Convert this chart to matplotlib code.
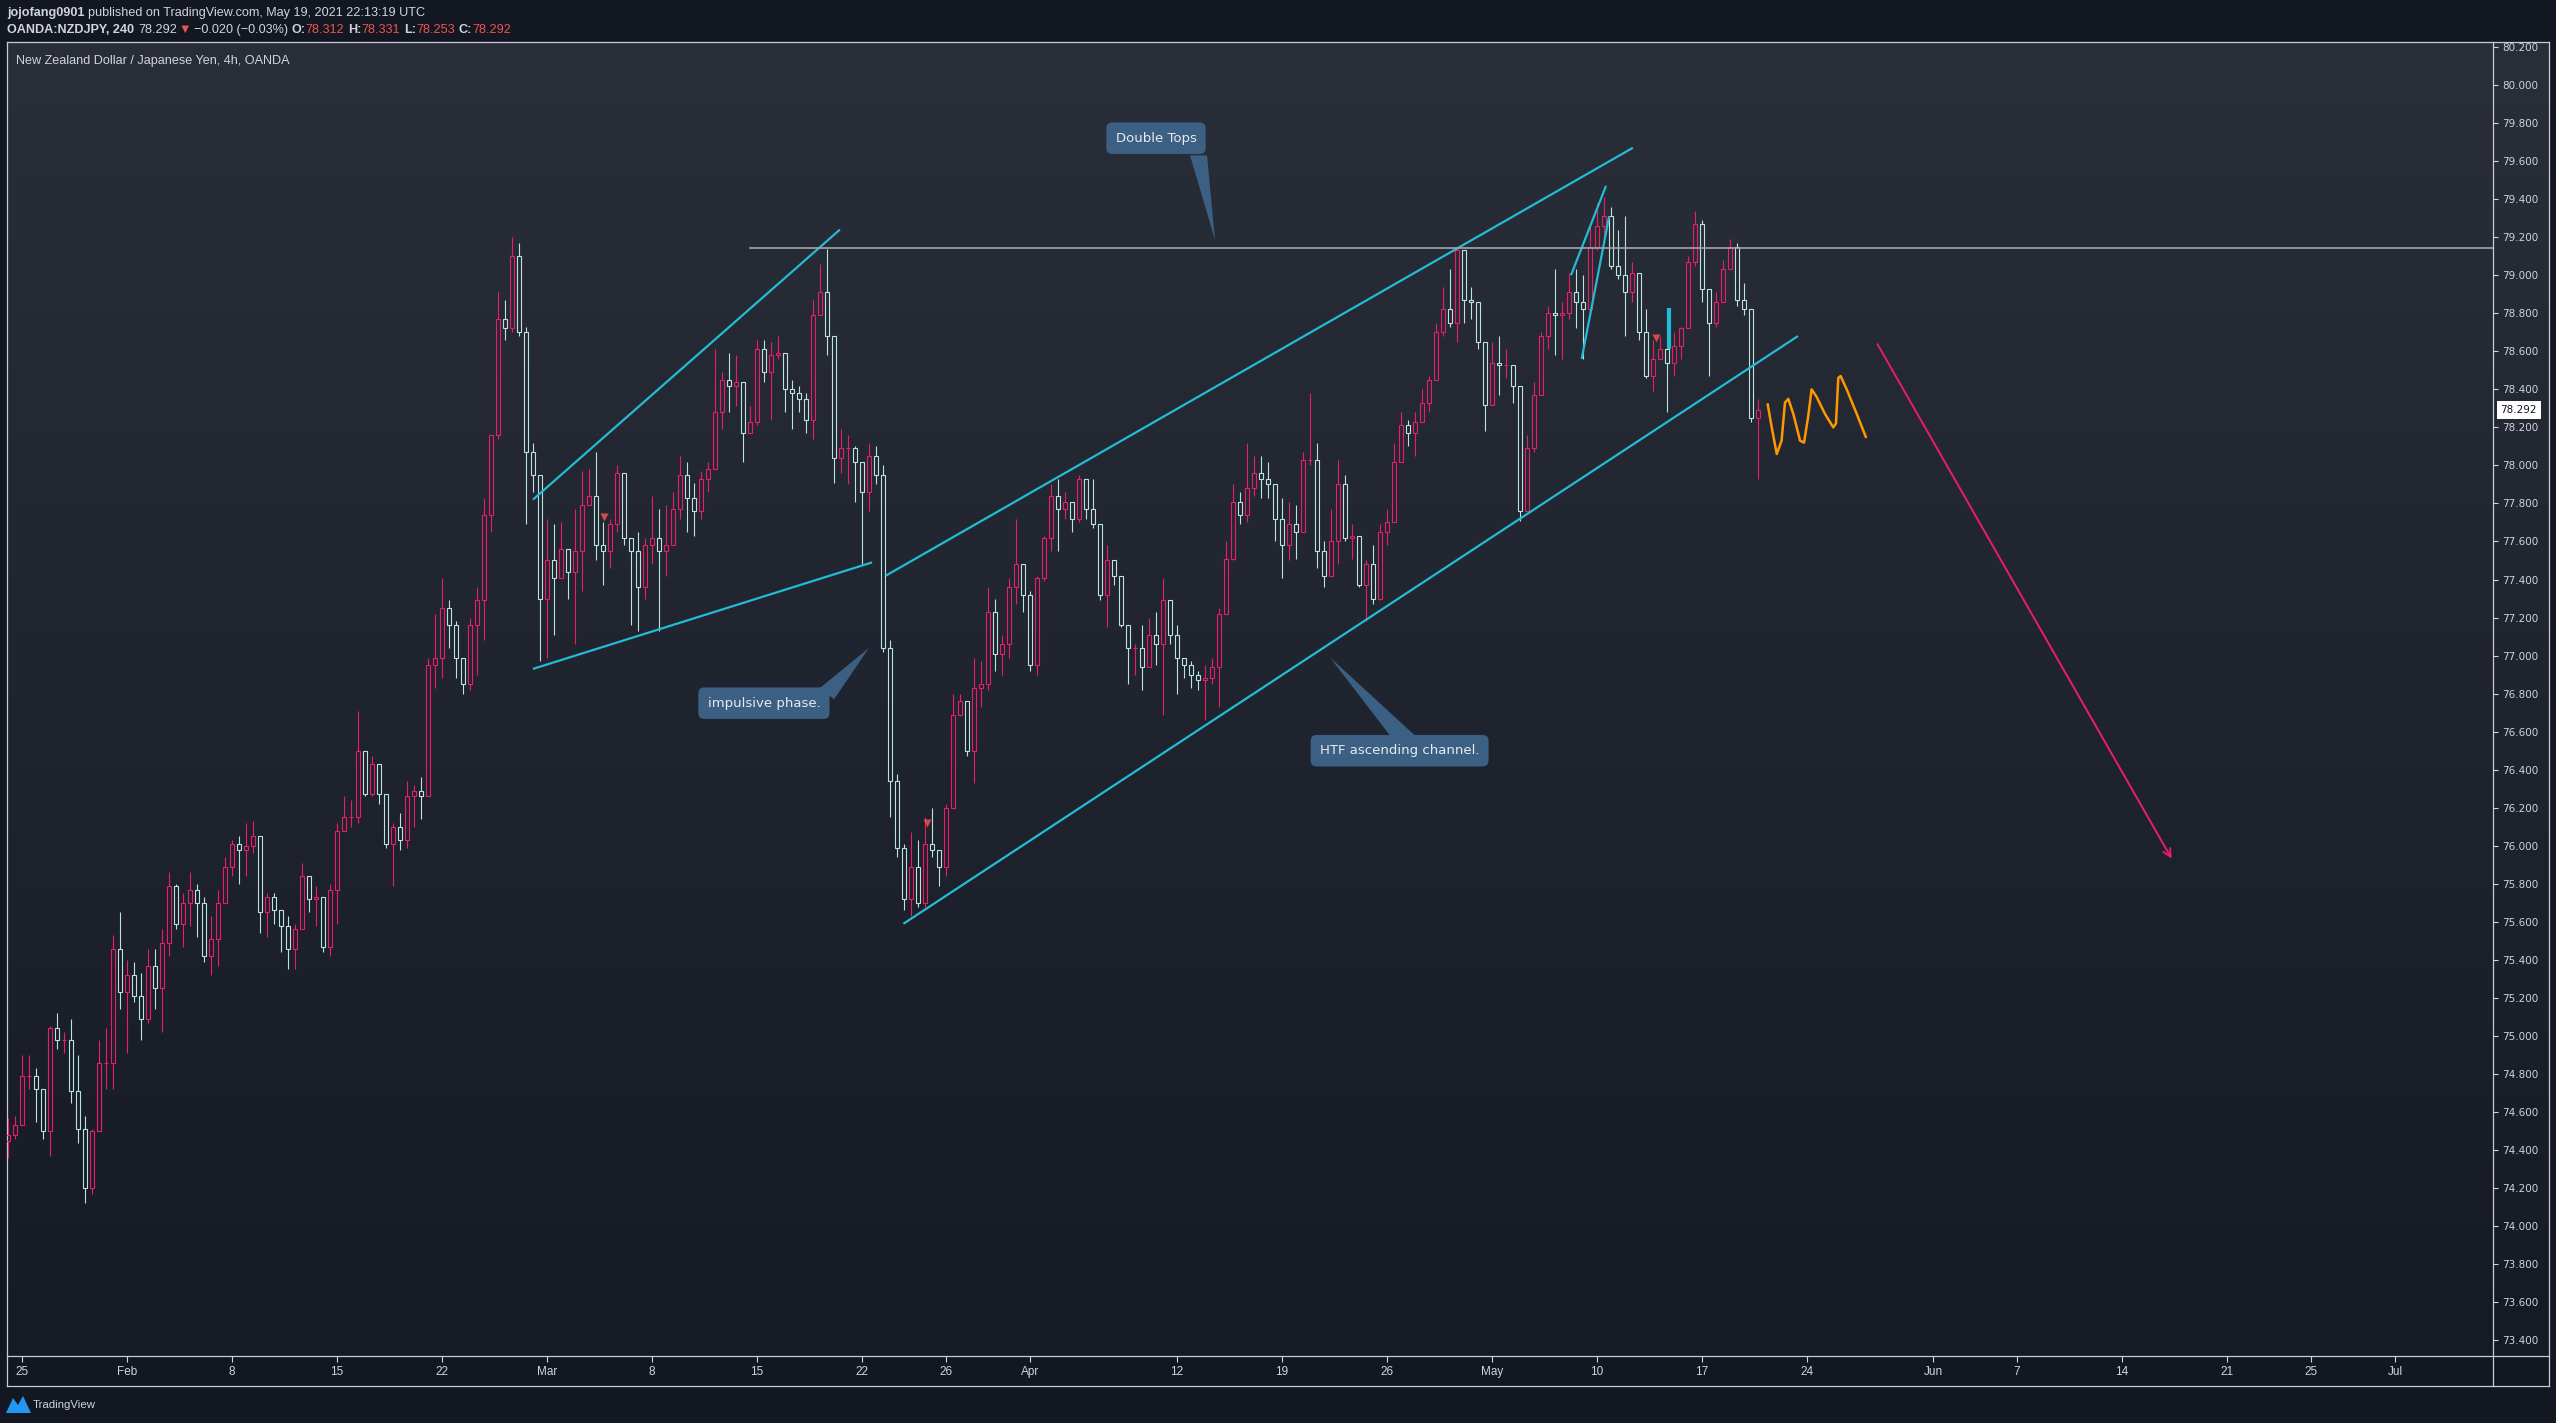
import numpy as np
import matplotlib
matplotlib.use("Agg")
import matplotlib.pyplot as plt
import matplotlib.transforms as mtransforms
from matplotlib.colors import LinearSegmentedColormap
from matplotlib.lines import Line2D
from matplotlib.patches import Polygon

START_DATE = '2021-01-22'      # day of the first bar
FIRST_SLOT = 1                 # first bar is the 2nd 8h slot of that day
BARS_PER_DAY = 3
FIRST_OPEN = 74.45

CLOSE = [
    74.48, 74.53, 74.79, 74.79, 74.72, 74.50, 75.04, 74.98, 74.98, 74.71,
    74.51, 74.20, 74.50, 74.86, 74.86, 75.46, 75.23, 75.32, 75.21, 75.09,
    75.37, 75.25, 75.49, 75.79, 75.59, 75.70, 75.77, 75.70, 75.42, 75.51,
    75.70, 75.89, 76.01, 75.98, 76.00, 76.05, 75.65, 75.73, 75.66, 75.58,
    75.46, 75.56, 75.84, 75.72, 75.73, 75.47, 75.77, 76.08, 76.15, 76.15, 76.50,
    76.27, 76.43, 76.27, 76.01, 76.10, 76.03, 76.26, 76.29, 76.26, 76.95,
    76.99, 77.25, 77.16, 76.99, 76.85, 77.16, 77.29, 77.74, 78.16, 78.77,
    78.72, 79.10, 78.70, 78.07, 77.95, 77.30, 77.50, 77.41, 77.56, 77.44,
    77.55, 77.79, 77.84, 77.58, 77.55, 77.69, 77.96, 77.62, 77.55, 77.36,
    77.58, 77.62, 77.55, 77.58, 77.77, 77.95, 77.83, 77.76, 77.93, 77.98,
    78.28, 78.45, 78.42, 78.44, 78.17, 78.23, 78.61, 78.49, 78.58, 78.59,
    78.40, 78.38, 78.35, 78.24, 78.79, 78.91, 78.68, 78.04, 78.09, 78.09,
    78.02, 77.86, 78.05, 77.95, 77.04, 76.34, 75.99, 75.72, 75.89, 75.70,
    76.01, 75.98, 75.89, 76.20, 76.69, 76.76, 76.50, 76.83, 76.85, 77.23,
    77.01, 77.06, 77.36, 77.48, 77.32, 76.95, 77.41, 77.62, 77.84, 77.77,
    77.81, 77.72, 77.93, 77.77, 77.69, 77.32, 77.50, 77.42, 77.16, 77.04,
    77.04, 76.94, 77.11, 77.06, 77.29, 77.11, 76.99, 76.95, 76.90, 76.87,
    76.88, 76.94, 77.22, 77.51, 77.81, 77.74, 77.88, 77.96, 77.93, 77.90,
    77.72, 77.58, 77.69, 77.65, 78.03, 78.03, 77.55, 77.42, 77.60, 77.90,
    77.62, 77.63, 77.37, 77.48, 77.30, 77.65, 77.70, 78.02, 78.21, 78.17,
    78.23, 78.33, 78.45, 78.70, 78.82, 78.75, 79.13, 78.87, 78.86, 78.65,
    78.32, 78.54, 78.53, 78.53, 78.42, 77.76, 78.09, 78.37, 78.68, 78.80,
    78.79, 78.80, 78.91, 78.86, 78.82, 79.15, 79.26, 79.31, 79.05, 79.00,
    78.91, 79.01, 78.70, 78.47, 78.56, 78.61, 78.54, 78.63, 78.72, 79.07,
    79.27, 78.93, 78.75, 78.86, 79.03, 79.15, 78.87, 78.82, 78.25, 78.292,
]
HIGH = [
    74.57, 74.58, 74.90, 74.90, 74.83, 74.72, 75.05, 75.12, 75.02, 75.09,
    74.90, 74.58, 74.51, 74.98, 75.04, 75.53, 75.65, 75.40, 75.39, 75.33,
    75.46, 75.46, 75.56, 75.86, 75.80, 75.75, 75.86, 75.80, 75.73, 75.63,
    75.77, 75.94, 76.03, 76.05, 76.12, 76.13, 76.05, 75.75, 75.75, 75.66,
    75.63, 75.59, 75.91, 75.80, 75.79, 75.73, 75.80, 76.12, 76.26, 76.24, 76.71,
    76.47, 76.47, 76.38, 76.24, 76.12, 76.17, 76.34, 76.32, 76.36, 76.99,
    77.22, 77.41, 77.29, 77.18, 76.92, 77.20, 77.36, 77.83, 78.16, 78.91,
    78.87, 79.20, 79.17, 78.73, 78.12, 77.79, 77.72, 77.69, 77.70, 77.55,
    77.77, 77.97, 77.98, 78.07, 77.70, 77.72, 78.00, 77.81, 77.58, 77.65,
    77.62, 77.84, 77.77, 77.79, 77.86, 78.05, 78.02, 77.91, 77.97, 78.02,
    78.61, 78.49, 78.59, 78.58, 78.31, 78.31, 78.66, 78.66, 78.65, 78.68,
    78.51, 78.45, 78.42, 78.38, 78.87, 79.06, 79.14, 78.38, 78.19, 78.16,
    78.10, 77.90, 78.12, 78.10, 78.00, 77.08, 76.38, 76.01, 76.07, 76.03,
    76.15, 76.20, 75.94, 76.22, 76.80, 76.80, 76.76, 76.99, 76.97, 77.36,
    77.30, 77.11, 77.41, 77.72, 77.41, 77.34, 77.42, 77.63, 77.90, 77.93,
    77.86, 77.79, 77.95, 77.90, 77.93, 77.63, 77.58, 77.50, 77.39, 77.16,
    77.06, 77.16, 77.20, 77.23, 77.41, 77.27, 77.16, 76.99, 76.97, 76.92,
    76.95, 76.99, 77.25, 77.60, 77.90, 77.86, 78.12, 78.05, 78.05, 78.02,
    77.81, 77.83, 77.81, 77.79, 78.07, 78.38, 78.12, 77.60, 77.77, 78.03,
    77.95, 77.69, 77.63, 77.50, 77.58, 77.69, 77.77, 78.12, 78.28, 78.24,
    78.28, 78.40, 78.47, 78.75, 78.94, 79.03, 79.15, 79.03, 78.94, 78.80,
    78.65, 78.65, 78.68, 78.61, 78.49, 78.18, 78.16, 78.44, 78.70, 78.84,
    79.03, 78.86, 79.01, 79.03, 79.00, 79.27, 79.38, 79.41, 79.36, 79.24,
    79.31, 79.07, 78.91, 78.82, 78.66, 78.68, 78.61, 78.70, 78.73, 79.10,
    79.34, 79.29, 78.84, 78.91, 79.08, 79.19, 79.17, 78.96, 78.82, 78.35,
]
LOW = [
    74.36, 74.46, 74.64, 74.72, 74.55, 74.46, 74.37, 74.93, 74.91, 74.65,
    74.44, 74.12, 74.17, 74.50, 74.72, 74.72, 75.14, 74.91, 75.18, 74.98,
    75.07, 75.14, 75.02, 75.42, 75.56, 75.47, 75.58, 75.52, 75.39, 75.32,
    75.37, 75.70, 75.84, 75.80, 75.84, 75.96, 75.54, 75.52, 75.59, 75.44,
    75.35, 75.35, 75.63, 75.65, 75.58, 75.44, 75.42, 75.59, 76.08, 76.10, 76.12,
    76.26, 76.26, 76.22, 75.99, 75.79, 75.98, 75.99, 76.10, 76.14, 76.26,
    76.83, 76.88, 77.04, 76.88, 76.80, 76.82, 76.90, 77.08, 77.65, 78.14,
    78.66, 78.70, 78.68, 77.69, 77.86, 76.97, 76.99, 77.11, 77.46, 77.30,
    77.06, 77.34, 77.79, 77.50, 77.37, 77.46, 77.65, 77.58, 77.16, 77.13,
    77.30, 77.48, 77.13, 77.42, 77.58, 77.72, 77.65, 77.63, 77.72, 77.86,
    78.09, 78.19, 78.28, 78.31, 78.02, 78.19, 78.21, 78.44, 78.24, 78.56,
    78.28, 78.19, 78.28, 78.17, 78.14, 78.79, 78.58, 77.91, 77.96, 77.90,
    77.81, 77.48, 77.76, 77.90, 77.02, 76.15, 75.94, 75.66, 75.63, 75.68,
    75.68, 75.94, 75.79, 75.84, 76.38, 76.68, 76.47, 76.33, 76.73, 76.82,
    76.92, 76.90, 76.99, 77.27, 77.23, 76.92, 76.90, 77.39, 77.55, 77.55,
    77.72, 77.65, 77.70, 77.72, 77.67, 77.29, 77.15, 77.37, 77.15, 76.85,
    76.90, 76.82, 76.94, 76.95, 76.69, 77.06, 76.80, 76.88, 76.83, 76.82,
    76.66, 76.85, 76.73, 77.22, 77.50, 77.69, 77.70, 77.84, 77.83, 77.83,
    77.60, 77.41, 77.50, 77.51, 77.76, 78.00, 77.46, 77.36, 77.44, 77.48,
    77.60, 77.51, 77.36, 77.18, 77.27, 77.29, 77.58, 77.70, 78.02, 78.10,
    78.05, 78.23, 78.28, 78.47, 78.68, 78.73, 78.65, 78.75, 78.77, 78.61,
    78.18, 78.35, 78.37, 78.46, 78.33, 77.71, 77.76, 78.07, 78.40, 78.61,
    78.58, 78.56, 78.77, 78.72, 78.56, 78.79, 79.13, 79.20, 79.03, 78.98,
    78.68, 78.86, 78.66, 78.46, 78.39, 78.56, 78.28, 78.47, 78.56, 78.72,
    79.05, 78.86, 78.47, 78.73, 78.91, 79.03, 78.84, 78.79, 78.23, 77.93,
]

TIME_TICKS = ['2021-01-25', '2021-02-01', '2021-02-08', '2021-02-15', '2021-02-22',
              '2021-03-01', '2021-03-08', '2021-03-15', '2021-03-22', '2021-03-26',
              '2021-04-01', '2021-04-12', '2021-04-19', '2021-04-26', '2021-05-03',
              '2021-05-10', '2021-05-17', '2021-05-24', '2021-06-01', '2021-06-07',
              '2021-06-14', '2021-06-21', '2021-06-25', '2021-07-01']
TIME_LABELS = ['25', 'Feb', '8', '15', '22', 'Mar', '8', '15', '22', '26', 'Apr', '12',
               '19', '26', 'May', '10', '17', '24', 'Jun', '7', '14', '21', '25', 'Jul']
PRICE_TICKS = np.round(np.arange(73.4, 80.21, 0.2), 1)
LAST_PRICE = 78.292

# drawings, x in trading days from 1 Feb 2021, y in price
WEDGE_TOP = ([19.33, 33.95], [77.82, 79.24])
WEDGE_BOT = ([19.33, 35.48], [76.93, 77.49])
CHAN_TOP = ([36.13, 71.71], [77.42, 79.67])
CHAN_BOT = ([36.97, 79.57], [75.59, 78.68])
FLAG_A = ([68.76, 70.43], [79.00, 79.47])
FLAG_B = ([69.27, 70.58], [78.56, 79.31])
TOP_LEVEL = 79.145
TOP_LEVEL_START = 29.67
MARK_BAR = ([73.43, 73.43], [78.61, 78.83])
SELL_T = [22.72, 38.08, 72.81]
SELL_P = [77.73, 76.12, 78.67]
WAVE_T = [78.13, 78.32, 78.56, 78.79, 78.95, 79.11, 79.35, 79.67, 79.86, 80.06,
          80.22, 80.46, 80.86, 81.25, 81.38, 81.49, 81.60, 81.89, 82.37, 82.80]
WAVE_P = [78.32, 78.20, 78.06, 78.13, 78.33, 78.35, 78.27, 78.13, 78.12, 78.26,
          78.40, 78.36, 78.27, 78.20, 78.22, 78.46, 78.47, 78.40, 78.27, 78.15]
ARROW = ((83.29, 78.65), (97.43, 75.92))
CALLOUTS = [
    ('Double Tops', (49.0, 79.72), [(50.62, 79.63), (51.43, 79.63), (51.81, 79.185)]),
    ('impulsive phase.', (30.33, 76.75), [(33.0, 76.83), (33.67, 76.77), (35.33, 77.04)]),
    ('HTF ascending channel.', (60.60, 76.50), [(60.14, 76.58), (61.33, 76.58), (57.29, 76.99)]),
]

# ---------------- style ----------------
W, H = 2556, 1423
OUTER = '#131722'
TEXT = '#d1d4dc'
RED = '#ef5350'
UP = '#e91e63'
DOWN = '#b9e4e0'
CYAN = '#22bcd4'
BOX = '#3c5f84'
HEAD_FONT = ['Liberation Sans', 'DejaVu Sans']

fig = plt.figure(figsize=(W / 100, H / 100), dpi=100, facecolor=OUTER)


def fx(px):
    return px / W


def fy(py):
    return 1 - py / H


# gradient background behind chart + price scale
bg = fig.add_axes([fx(7), fy(1356), fx(2549) - fx(7), fy(42) - fy(1356)])
bg.axis('off')
cmap = LinearSegmentedColormap.from_list('tvbg', ['#2a2e39', '#161a25'])
bg.imshow(np.linspace(0, 1, 256).reshape(-1, 1), cmap=cmap, aspect='auto',
          extent=[0, 1, 0, 1])

ax = fig.add_axes([fx(7), fy(1356), fx(2493) - fx(7), fy(42) - fy(1356)])
ax.set_facecolor('none')
ax.set_zorder(2)

# candles
n = len(CLOSE)
c = np.array(CLOSE)
o = np.concatenate([[FIRST_OPEN], c[:-1]])
day0 = np.busday_count('2021-02-01', START_DATE)
t = day0 + (np.arange(n) + FIRST_SLOT) / BARS_PER_DAY
top = np.maximum(o, c)
bot = np.minimum(o, c)
hi = np.maximum(np.array(HIGH), top)
lo = np.minimum(np.array(LOW), bot)
cols = np.where(c >= o, UP, DOWN)
ax.vlines(t, top, hi, colors=cols, lw=0.8, zorder=3)
ax.vlines(t, lo, bot, colors=cols, lw=0.8, zorder=3)
ax.bar(t, top - bot, bottom=bot, width=0.21, facecolor='none', edgecolor=cols,
       linewidth=0.8, zorder=3)

# drawings
for xs, ys in [WEDGE_TOP, WEDGE_BOT, CHAN_TOP, CHAN_BOT, FLAG_A, FLAG_B]:
    ax.plot(xs, ys, color=CYAN, lw=1.6, solid_capstyle='butt', zorder=4)
ax.plot([TOP_LEVEL_START, 200], [TOP_LEVEL, TOP_LEVEL], color='#a3a6ae', lw=1.2, zorder=4)
ax.plot(*MARK_BAR, color=CYAN, lw=3, solid_capstyle='butt', zorder=4)
ax.plot(SELL_T, SELL_P, 'v', color=RED, ms=6, alpha=0.85, mec='none', zorder=5)
ax.plot(WAVE_T, WAVE_P, color='#ff9800', lw=1.8, zorder=4)
ax.annotate('', xy=ARROW[1], xytext=ARROW[0],
            arrowprops=dict(arrowstyle='->', color=UP, lw=1.4, mutation_scale=14))

for label, xy, tail in CALLOUTS:
    ax.add_patch(Polygon(tail, closed=True, fc=BOX, ec='none', zorder=5))
    ax.text(xy[0], xy[1], label, ha='center', va='center', color='#e8eaed',
            fontsize=9.5, zorder=6,
            bbox=dict(boxstyle='round,pad=0.7,rounding_size=0.45', fc=BOX, ec='none'))

# axes / scales
ax.set_xlim((7 - 127) / 21, (2493 - 127) / 21)
ax.set_ylim(80 - (1356 - 85) / 190.2, 80 + (85 - 42) / 190.2)
for s in ax.spines.values():
    s.set_visible(False)

ax.yaxis.tick_right()
ax.set_yticks(PRICE_TICKS)
ax.set_yticklabels(['%.3f' % v for v in PRICE_TICKS])
ax.tick_params(axis='y', direction='out', length=3.5, width=0.8, pad=3,
               colors=TEXT, labelsize=7.5)

ax.set_xticks(np.busday_count('2021-02-01', TIME_TICKS))
ax.set_xticklabels(TIME_LABELS, family=HEAD_FONT)
ax.tick_params(axis='x', direction='out', length=4, width=0.8, pad=3,
               colors=TEXT, labelsize=8.5)

# last price tag
tr = mtransforms.blended_transform_factory(ax.transAxes, ax.transData)
ax.text(1.003, LAST_PRICE, '78.292', transform=tr, ha='left', va='center',
        fontsize=7.5, color=OUTER, zorder=7, clip_on=False,
        bbox=dict(boxstyle='square,pad=0.35', fc='white', ec='none'))

# frame lines
frame = '#c8cbd3'
for (x1, y1, x2, y2) in [(7, 42, 2549, 42), (7, 1386, 2549, 1386), (7, 42, 7, 1386),
                         (2549, 42, 2549, 1386), (2493, 42, 2493, 1386),
                         (7, 1356, 2549, 1356)]:
    fig.add_artist(Line2D([fx(x1), fx(x2)], [fy(y1), fy(y2)], color=frame, lw=0.9))

# header
renderer = fig.canvas.get_renderer()


def text_row(x_px, y_px, parts, size=9.1):
    x = x_px
    for s, col, wt, gap in parts:
        x += gap
        txt = fig.text(fx(x), fy(y_px), s, color=col, fontweight=wt, fontsize=size,
                       family=HEAD_FONT, ha='left', va='center')
        x += txt.get_window_extent(renderer=renderer).width


text_row(7, 13, [('jojofang0901', TEXT, 'bold', 0),
                 ('published on TradingView.com, May 19, 2021 22:13:19 UTC', TEXT, 'normal', 3)])
text_row(7, 30, [('OANDA:NZDJPY, 240', TEXT, 'bold', 0),
                 ('78.292', TEXT, 'normal', 4),
                 ('\u25bc', RED, 'normal', 1),
                 ('\u22120.020 (\u22120.03%)', TEXT, 'normal', 3),
                 ('O:', TEXT, 'bold', 4), ('78.312', RED, 'normal', 0),
                 ('H:', TEXT, 'bold', 4), ('78.331', RED, 'normal', 0),
                 ('L:', TEXT, 'bold', 4), ('78.253', RED, 'normal', 0),
                 ('C:', TEXT, 'bold', 4), ('78.292', RED, 'normal', 0)])
text_row(16, 61, [('New Zealand Dollar / Japanese Yen, 4h, OANDA', TEXT, 'normal', 0)])

# footer logo
fig.patches.append(Polygon([(fx(6), fy(1413)), (fx(13), fy(1398)), (fx(18), fy(1405)),
                            (fx(23), fy(1396)), (fx(31), fy(1413))], closed=True,
                           fc='#2196f3', ec='none', transform=fig.transFigure, figure=fig))
text_row(33, 1405, [('TradingView', TEXT, 'normal', 0)], size=8.2)

fig.savefig('out.png', dpi=100, facecolor=OUTER)
